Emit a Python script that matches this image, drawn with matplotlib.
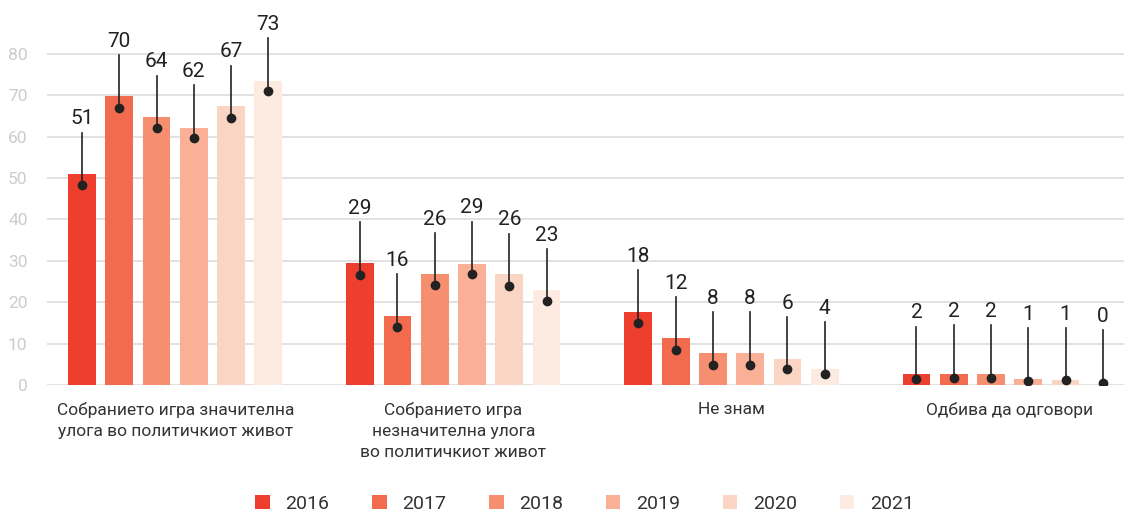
import numpy as np
import matplotlib.pyplot as plt

plt.rcParams['font.family'] = ['Roboto', 'DejaVu Sans']

# Податоци
categories = ['Собранието игра значителна\nулога во политичкиот живот',
              'Собранието игра\nнезначителна улога\nво политичкиот живот',
              'Не знам',
              'Одбива да одговори']
years = ['2016', '2017', '2018', '2019', '2020', '2021']
colors = ['#EE3E2E', '#F26B4F', '#F68E70', '#F9B096', '#FBD5C4', '#FDEAE1']

# висина на столбовите (по години, за секоја категорија)
values = [
    [51.0, 29.5, 17.6, 2.6],
    [69.9, 16.7, 11.4, 2.6],
    [64.8, 26.8, 7.7, 2.6],
    [62.1, 29.2, 7.7, 1.45],
    [67.4, 26.8, 6.3, 1.2],
    [73.5, 23.0, 3.9, 0.0],
]
# прикажани бројки
labels = [
    [51, 29, 18, 2],
    [70, 16, 12, 2],
    [64, 26, 8, 2],
    [62, 29, 8, 1],
    [67, 26, 6, 1],
    [73, 23, 4, 0],
]
# положба на точките
dots = [
    [48.3, 26.7, 15.1, 1.4],
    [67.0, 14.1, 8.5, 1.7],
    [62.1, 24.1, 4.9, 1.7],
    [59.7, 26.8, 4.9, 1.0],
    [64.5, 23.9, 3.8, 1.1],
    [71.1, 20.2, 2.6, 0.5],
]

x = np.arange(len(categories))
step = 0.134
width = 0.1
line_len = 12.7

fig = plt.figure(figsize=(11.24, 5.11), dpi=100)
ax = fig.add_axes([0.0418, 0.2466, 0.9582, 0.7534])

for i, year in enumerate(years):
    pos = x + (i - 2.5) * step
    ax.bar(pos, values[i], width=width, color=colors[i], label=year, zorder=2)
    for px, d, lab in zip(pos, dots[i], labels[i]):
        ax.plot([px, px], [d, d + line_len], color='#222222', lw=1.2, zorder=3)
        ax.plot(px, d, 'o', color='#222222', ms=6, zorder=4)
        ax.annotate(str(lab), (px, d + line_len), xytext=(0, 3), textcoords='offset points',
                    ha='center', va='bottom', fontsize=15, color='#222222')

ax.set_ylim(0, 93.05)
ax.set_xlim(-0.461, 3.411)
ax.set_yticks(np.arange(0, 81, 10))
ax.yaxis.grid(True, color='#dddddd', lw=1.2, zorder=0)
ax.tick_params(axis='y', length=0, pad=14, labelsize=12.5, labelcolor='#cccccc')
ax.set_xticks(x)
ax.set_xticklabels(categories, fontsize=12.5, color='#333333', linespacing=1.5)
ax.tick_params(axis='x', length=0, pad=12)
for s in ax.spines.values():
    s.set_visible(False)

fig.legend(loc='lower center', bbox_to_anchor=(0.52, -0.038), ncol=6, frameon=False,
           fontsize=14, handlelength=0.75, handleheight=0.75, handletextpad=0.8,
           columnspacing=2.2, labelcolor='#333333')

fig.savefig('out.png', dpi=100)
